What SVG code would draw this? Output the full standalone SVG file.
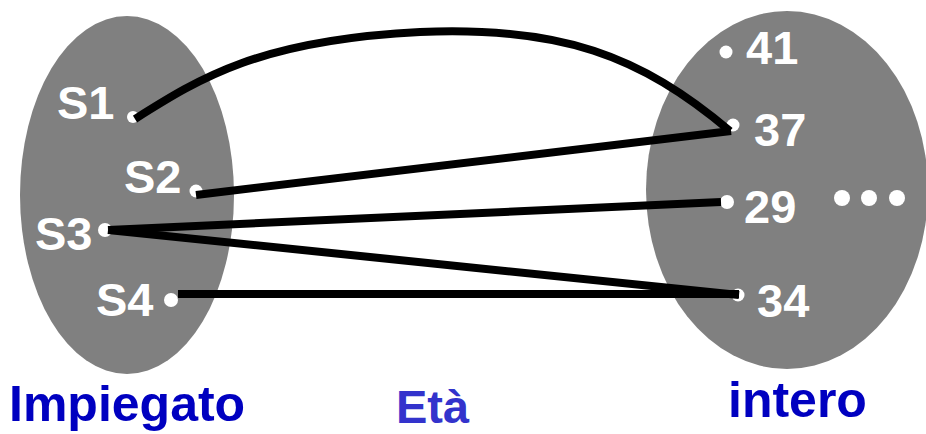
<svg xmlns="http://www.w3.org/2000/svg" width="926" height="434" viewBox="0 0 926 434">
<style>
.set{fill:#808080}
.lbl{font-family:"Liberation Sans",Arial,sans-serif;font-weight:bold;font-size:47px;fill:#fff}
.dot{fill:#fff}
.title{font-family:"Liberation Sans",Arial,sans-serif;font-weight:bold;font-size:50px;fill:#0000c0}
.conn{stroke:#000;stroke-width:8;fill:none;stroke-linecap:butt}
</style>
<rect width="926" height="434" fill="#fff"/>
<g id="impiegato">
<ellipse class="set" cx="127" cy="195" rx="107" ry="179"/>
<text class="lbl" x="57" y="119">S1</text>
<text class="lbl" x="124" y="193">S2</text>
<text class="lbl" x="35" y="250">S3</text>
<text class="lbl" x="96" y="316">S4</text>
<circle class="dot" cx="133" cy="117" r="6"/>
<circle class="dot" cx="196" cy="191" r="6.5"/>
<circle class="dot" cx="105" cy="230" r="7"/>
<circle class="dot" cx="171" cy="300" r="7"/>
<text class="title" x="9" y="421">Impiegato</text>
</g>
<g id="intero">
<ellipse class="set" cx="787" cy="190" rx="141" ry="179"/>
<text class="lbl" x="746" y="64">41</text>
<text class="lbl" x="754" y="146">37</text>
<text class="lbl" x="744" y="223">29</text>
<text class="lbl" x="757" y="317">34</text>
<circle class="dot" cx="726" cy="52" r="6.5"/>
<circle class="dot" cx="733" cy="125" r="6.5"/>
<circle class="dot" cx="727" cy="202" r="7"/>
<circle class="dot" cx="738" cy="295" r="6.5"/>
<circle class="dot" cx="842" cy="198" r="8"/>
<circle class="dot" cx="869" cy="198" r="8"/>
<circle class="dot" cx="897" cy="198" r="8"/>
<text class="title" x="728" y="417">intero</text>
</g>
<g id="eta">
<text class="title" x="396" y="423" style="fill:#3333cc;font-size:47px">Età</text>
</g>
<g id="connectors">
<path class="conn" d="M135,119 C200,78 260,40 420,32 C560,26 640,55 730,131"/>
<line class="conn" x1="196" y1="195" x2="731" y2="131"/>
<line class="conn" x1="108" y1="230" x2="721" y2="202"/>
<line class="conn" x1="108" y1="230" x2="739" y2="295"/>
<line class="conn" x1="178" y1="294" x2="739" y2="294"/>
</g>
</svg>
